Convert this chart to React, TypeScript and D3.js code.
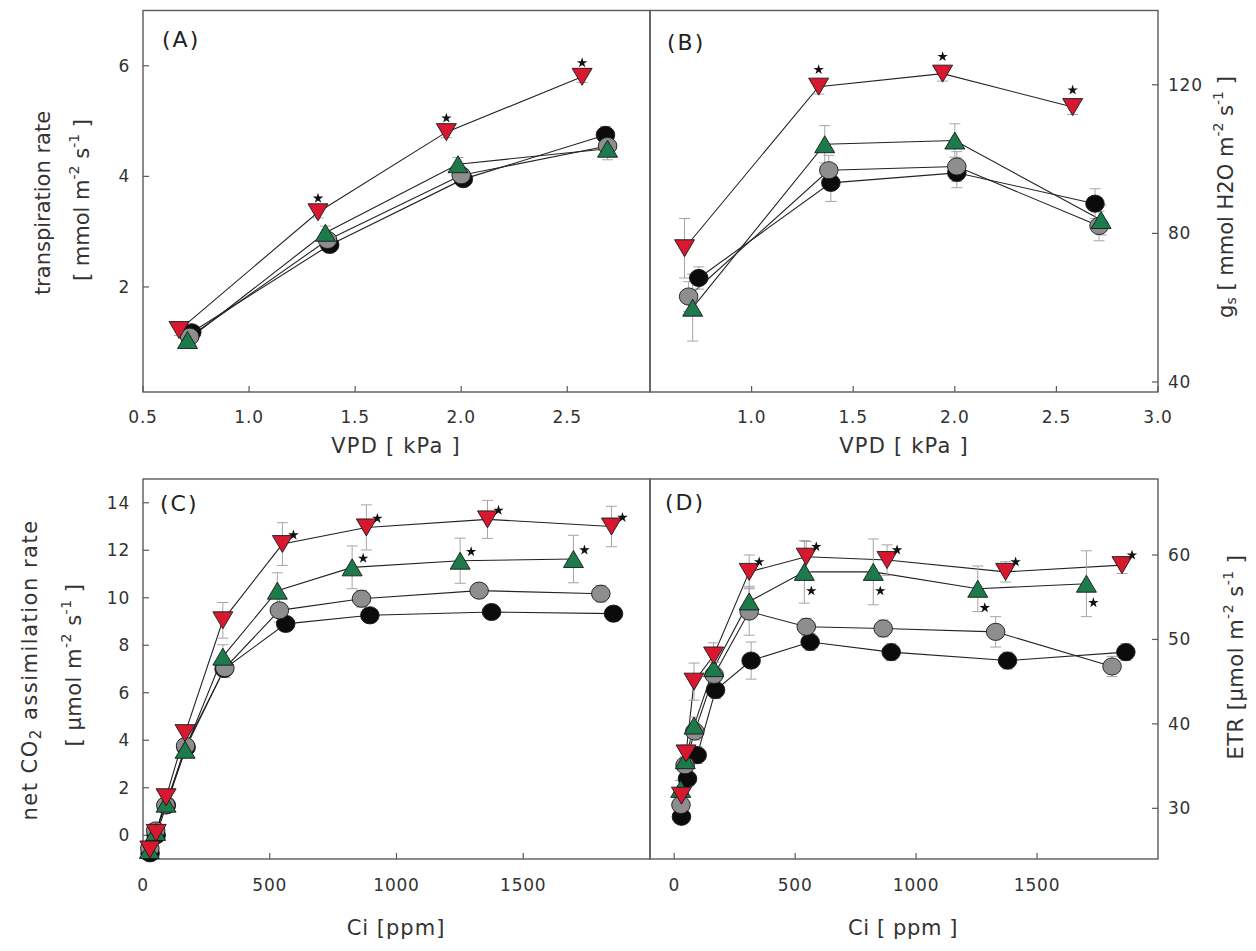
import React from "react";
import * as d3 from "d3";

const FONT = "'DejaVu Sans', 'Liberation Sans', sans-serif";

// ---------- (A) transpiration rate vs VPD ----------
const aBlackX = [0.73, 1.38, 2.01, 2.68];
const aBlackY = [1.18, 2.76, 3.95, 4.75];
const aBlackErr = [0.08, 0.1, 0.1, 0.15];
const aGreyX = [0.72, 1.37, 2.0, 2.69];
const aGreyY = [1.1, 2.85, 4.02, 4.55];
const aGreyErr = [0.08, 0.1, 0.12, 0.15];
const aGreenX = [0.71, 1.36, 1.985, 2.69];
const aGreenY = [1.04, 2.98, 4.22, 4.5];
const aGreenErr = [0.08, 0.12, 0.12, 0.2];
const aRedX = [0.67, 1.325, 1.93, 2.57];
const aRedY = [1.22, 3.35, 4.8, 5.8];
const aRedErr = [0.1, 0.1, 0.1, 0.1];
const aRedStars = [1, 2, 3];

// ---------- (B) stomatal conductance vs VPD ----------
const bBlackX = [0.74, 1.39, 2.01, 2.69];
const bBlackY = [68, 93.6, 96.3, 88];
const bBlackErr = [3, 5, 4, 4];
const bGreyX = [0.69, 1.38, 2.01, 2.71];
const bGreyY = [63, 97, 98, 82];
const bGreyErr = [4, 4, 4, 4];
const bGreenX = [0.71, 1.36, 2.0, 2.72];
const bGreenY = [60, 104, 105, 83.6];
const bGreenErr = [9, 5, 4.5, 4];
const bRedX = [0.67, 1.33, 1.94, 2.58];
const bRedY = [76, 119.5, 123, 114];
const bRedErr = [8, 2, 2, 2];
const bRedStars = [1, 2, 3];

// ---------- (C) net CO2 assimilation vs Ci ----------
const cBlackX = [28, 52, 92, 170, 320, 563, 895, 1375, 1856];
const cBlackY = [-0.76, 0.0, 1.26, 3.7, 7.0, 8.9, 9.26, 9.4, 9.33];
const cBlackErr = [0.1, 0.1, 0.15, 0.2, 0.3, 0.3, 0.3, 0.3, 0.3];
const cGreyX = [27, 50, 90, 168, 323, 538, 862, 1326, 1806];
const cGreyY = [-0.55, 0.2, 1.26, 3.76, 7.04, 9.47, 9.96, 10.3, 10.17];
const cGreyErr = [0.1, 0.1, 0.2, 0.3, 0.4, 0.5, 0.35, 0.3, 0.35];
const cGreenX = [25, 50, 91, 166, 315, 530, 825, 1251, 1698];
const cGreenY = [-0.62, 0.14, 1.33, 3.6, 7.52, 10.3, 11.28, 11.56, 11.63];
const cGreenErr = [0.1, 0.1, 0.2, 0.3, 0.5, 0.75, 0.9, 0.95, 1.0];
const cRedX = [27, 52, 91, 166, 315, 550, 881, 1359, 1848];
const cRedY = [-0.6, 0.1, 1.6, 4.3, 9.05, 12.26, 12.96, 13.3, 13.0];
const cRedErr = [0.1, 0.1, 0.2, 0.3, 0.75, 0.9, 0.95, 0.8, 0.85];
const cRedStars = [5, 6, 7, 8];
const cGreenStars = [6, 7, 8];

// ---------- (D) ETR vs Ci ----------
const dBlackX = [30, 55, 95, 171, 318, 562, 897, 1378, 1867];
const dBlackY = [29.0, 33.5, 36.3, 44.0, 47.5, 49.7, 48.5, 47.5, 48.5];
const dBlackErr = [0.8, 0.8, 1, 1, 2.2, 1, 1, 1, 1];
const dGreyX = [28, 45, 85, 165, 310, 546, 864, 1329, 1810];
const dGreyY = [30.4, 35.1, 39.1, 45.8, 53.3, 51.5, 51.3, 50.9, 46.8];
const dGreyErr = [0.8, 1, 1, 1.5, 2.8, 1, 1, 1.8, 1.2];
const dGreenX = [27, 46, 82, 163, 310, 538, 823, 1255, 1704];
const dGreenY = [32.3, 35.7, 39.8, 46.6, 54.5, 58.0, 58.0, 56.0, 56.6];
const dGreenErr = [1, 1, 1, 1.5, 1.8, 3.7, 3.9, 2.7, 3.9];
const dRedX = [30, 49, 82, 163, 310, 546, 880, 1370, 1851];
const dRedY = [31.5, 36.5, 45.0, 48.1, 58.0, 59.8, 59.4, 58.0, 58.8];
const dRedErr = [1, 1, 2.2, 1.5, 2, 1.8, 1.8, 1.2, 1];
const dRedStars = [4, 5, 6, 7, 8];
const dGreenStars = [5, 6, 7, 8];

// ---------- axis ticks ----------
const aXTicks = [0.5, 1.0, 1.5, 2.0, 2.5];
const aYTicks = [2, 4, 6];
const bXTicks = [1.0, 1.5, 2.0, 2.5, 3.0];
const bYTicks = [40, 80, 120];
const cXTicks = [0, 500, 1000, 1500];
const cYTicks = [0, 2, 4, 6, 8, 10, 12, 14];
const dXTicks = [0, 500, 1000, 1500];
const dYTicks = [30, 40, 50, 60];

type Kind = "black" | "grey" | "green" | "red";
type Series = { kind: Kind; x: number[]; y: number[]; err: number[] };
type Box = { l: number; r: number; t: number; b: number };

const FILL: Record<Kind, string> = {
  black: "#0b0b0b",
  grey: "#8e8e8e",
  green: "#1d7a4b",
  red: "#d7182f",
};

const mk = (kind: Kind, x: number[], y: number[], err: number[]): Series => ({ kind, x, y, err });

const Marker = ({ kind, cx, cy }: { kind: Kind; cx: number; cy: number }) => {
  if (kind === "black" || kind === "grey") {
    return <ellipse cx={cx} cy={cy} rx={9.3} ry={8.6} fill={FILL[kind]} stroke="#1a1a1a" strokeWidth={0.9} />;
  }
  const s = 20;
  const h = 17;
  const pts =
    kind === "green"
      ? [[cx, cy - h / 2], [cx - s / 2, cy + h / 2], [cx + s / 2, cy + h / 2]]
      : [[cx, cy + h / 2], [cx - s / 2, cy - h / 2], [cx + s / 2, cy - h / 2]];
  return <polygon points={pts.map((p) => p.join(",")).join(" ")} fill={FILL[kind]} stroke="#1a1a1a" strokeWidth={0.9} />;
};

const starPath = d3.symbol().type(d3.symbolStar).size(34)() || "";
const Star = ({ x, y }: { x: number; y: number }) => (
  <path d={starPath} transform={`translate(${x},${y})`} fill="#111" />
);

type PanelProps = {
  box: Box;
  xDomain: [number, number];
  yDomain: [number, number];
  xTicks: number[];
  yTicks: number[];
  ySide: "left" | "right";
  xFmt: (v: number) => string;
  xLabelY: number;
  series: Series[];
  stars: { kind: Kind; idx: number[]; dx: number; dy: number }[];
  tag: string;
  tagX: number;
  tagY: number;
};

const Panel = ({ box, xDomain, yDomain, xTicks, yTicks, ySide, xFmt, xLabelY, series, stars, tag, tagX, tagY }: PanelProps) => {
  const x = d3.scaleLinear().domain(xDomain).range([box.l, box.r]);
  const y = d3.scaleLinear().domain(yDomain).range([box.b, box.t]);
  const line = d3
    .line<[number, number]>()
    .x((d) => x(d[0]))
    .y((d) => y(d[1]));
  const tickLen = 6;
  return (
    <g>
      <rect x={box.l} y={box.t} width={box.r - box.l} height={box.b - box.t} fill="none" stroke="#5a5a5a" strokeWidth={1.4} />
      {xTicks.map((v) => (
        <g key={"xt" + v}>
          <line x1={x(v)} x2={x(v)} y1={box.b} y2={box.b - tickLen} stroke="#5a5a5a" strokeWidth={1.2} />
          <text x={x(v)} y={xLabelY} textAnchor="middle" dominantBaseline="central" fontSize={17} letterSpacing={0.8} fill="#333">
            {xFmt(v)}
          </text>
        </g>
      ))}
      {yTicks.map((v) => (
        <g key={"yt" + v}>
          {ySide === "left" ? (
            <line x1={box.l} x2={box.l + tickLen} y1={y(v)} y2={y(v)} stroke="#5a5a5a" strokeWidth={1.2} />
          ) : (
            <line x1={box.r - tickLen} x2={box.r} y1={y(v)} y2={y(v)} stroke="#5a5a5a" strokeWidth={1.2} />
          )}
          <text
            x={ySide === "left" ? box.l - 13 : box.r + 10}
            y={y(v)}
            textAnchor={ySide === "left" ? "end" : "start"}
            dominantBaseline="central"
            fontSize={17}
            letterSpacing={0.8}
            fill="#333"
          >
            {v}
          </text>
        </g>
      ))}
      <text x={tagX} y={tagY} dominantBaseline="central" fontSize={22} letterSpacing={2} fill="#222">
        {tag}
      </text>
      {series.map((s) => (
        <path
          key={"ln" + s.kind}
          d={line(s.x.map((v, i) => [v, s.y[i]] as [number, number])) || ""}
          fill="none"
          stroke="#222"
          strokeWidth={1.1}
        />
      ))}
      {series.map((s) =>
        s.x.map((v, i) => (
          <g key={"eb" + s.kind + i} stroke="#a5a5a5" strokeWidth={1}>
            <line x1={x(v)} x2={x(v)} y1={y(s.y[i] - s.err[i])} y2={y(s.y[i] + s.err[i])} />
            <line x1={x(v) - 5.5} x2={x(v) + 5.5} y1={y(s.y[i] - s.err[i])} y2={y(s.y[i] - s.err[i])} />
            <line x1={x(v) - 5.5} x2={x(v) + 5.5} y1={y(s.y[i] + s.err[i])} y2={y(s.y[i] + s.err[i])} />
          </g>
        ))
      )}
      {series.map((s) =>
        s.x.map((v, i) => <Marker key={"m" + s.kind + i} kind={s.kind} cx={x(v)} cy={y(s.y[i])} />)
      )}
      {stars.map((st) => {
        const s = series.find((q) => q.kind === st.kind)!;
        return st.idx.map((i) => <Star key={"st" + st.kind + i} x={x(s.x[i]) + st.dx} y={y(s.y[i]) + st.dy} />);
      })}
    </g>
  );
};

const sup = (t: string, size = 14) => (
  <>
    <tspan dy={-8} fontSize={size}>
      {t}
    </tspan>
    <tspan dy={8}> </tspan>
  </>
);

const VTitle = ({ x, y, size, ls, children }: { x: number; y: number; size: number; ls: number; children: React.ReactNode }) => (
  <text
    transform={`translate(${x},${y}) rotate(-90)`}
    textAnchor="middle"
    dominantBaseline="central"
    fontSize={size}
    letterSpacing={ls}
    fill="#333"
  >
    {children}
  </text>
);

const TOP_A: Box = { l: 143, r: 650, t: 10.5, b: 392 };
const TOP_B: Box = { l: 650, r: 1158, t: 10.5, b: 392 };
const BOT_C: Box = { l: 143, r: 650, t: 479, b: 859 };
const BOT_D: Box = { l: 650, r: 1158, t: 479, b: 859 };

export default function App() {
  const f1 = d3.format(".1f");
  const f0 = d3.format("d");
  return (
    <svg width={1256} height={951} style={{ position: "absolute", left: 0, top: 0, display: "block" }} fontFamily={FONT}>
      <rect width={1256} height={951} fill="#fff" />
      <Panel
        box={TOP_A}
        xDomain={[0.5, 2.89]}
        yDomain={[0.1, 7.0]}
        xTicks={aXTicks}
        yTicks={aYTicks}
        ySide="left"
        xFmt={f1}
        xLabelY={417}
        series={[
          mk("black", aBlackX, aBlackY, aBlackErr),
          mk("grey", aGreyX, aGreyY, aGreyErr),
          mk("green", aGreenX, aGreenY, aGreenErr),
          mk("red", aRedX, aRedY, aRedErr),
        ]}
        stars={[{ kind: "red", idx: aRedStars, dx: 0, dy: -14 }]}
        tag="(A)"
        tagX={162}
        tagY={39}
      />
      <Panel
        box={TOP_B}
        xDomain={[0.5, 3.0]}
        yDomain={[37.3, 140]}
        xTicks={bXTicks}
        yTicks={bYTicks}
        ySide="right"
        xFmt={f1}
        xLabelY={417}
        series={[
          mk("black", bBlackX, bBlackY, bBlackErr),
          mk("grey", bGreyX, bGreyY, bGreyErr),
          mk("green", bGreenX, bGreenY, bGreenErr),
          mk("red", bRedX, bRedY, bRedErr),
        ]}
        stars={[{ kind: "red", idx: bRedStars, dx: 0, dy: -17 }]}
        tag="(B)"
        tagX={667}
        tagY={42}
      />
      <Panel
        box={BOT_C}
        xDomain={[0, 2000]}
        yDomain={[-1, 15]}
        xTicks={cXTicks}
        yTicks={cYTicks}
        ySide="left"
        xFmt={f0}
        xLabelY={885}
        series={[
          mk("black", cBlackX, cBlackY, cBlackErr),
          mk("grey", cGreyX, cGreyY, cGreyErr),
          mk("green", cGreenX, cGreenY, cGreenErr),
          mk("red", cRedX, cRedY, cRedErr),
        ]}
        stars={[
          { kind: "red", idx: cRedStars, dx: 11, dy: -9 },
          { kind: "green", idx: cGreenStars, dx: 11, dy: -9 },
        ]}
        tag="(C)"
        tagX={160}
        tagY={503}
      />
      <Panel
        box={BOT_D}
        xDomain={[-100, 2000]}
        yDomain={[24, 69]}
        xTicks={dXTicks}
        yTicks={dYTicks}
        ySide="right"
        xFmt={f0}
        xLabelY={885}
        series={[
          mk("black", dBlackX, dBlackY, dBlackErr),
          mk("grey", dGreyX, dGreyY, dGreyErr),
          mk("green", dGreenX, dGreenY, dGreenErr),
          mk("red", dRedX, dRedY, dRedErr),
        ]}
        stars={[
          { kind: "red", idx: dRedStars, dx: 10, dy: -10 },
          { kind: "green", idx: dGreenStars, dx: 7, dy: 19 },
        ]}
        tag="(D)"
        tagX={665}
        tagY={502}
      />

      {/* x-axis titles */}
      <text x={396} y={446} textAnchor="middle" dominantBaseline="central" fontSize={21} letterSpacing={1.2} fill="#333">
        VPD [ kPa ]
      </text>
      <text x={904} y={446} textAnchor="middle" dominantBaseline="central" fontSize={21} letterSpacing={1.2} fill="#333">
        VPD [ kPa ]
      </text>
      <text x={396} y={928} textAnchor="middle" dominantBaseline="central" fontSize={21} letterSpacing={1} fill="#333">
        Ci [ppm]
      </text>
      <text x={903} y={928} textAnchor="middle" dominantBaseline="central" fontSize={21} letterSpacing={0.6} fill="#333">
        Ci [ ppm ]
      </text>

      {/* y-axis titles */}
      <VTitle x={43} y={203} size={21} ls={0}>
        transpiration rate
      </VTitle>
      <VTitle x={82} y={200} size={21} ls={0}>
        [ mmol m{sup("-2")}s{sup("-1")}]
      </VTitle>
      <VTitle x={1226} y={197} size={21} ls={0}>
        g
        <tspan dy={5} fontSize={14}>
          s
        </tspan>
        <tspan dy={-5}> [ mmol H2O m</tspan>
        {sup("-2")}s{sup("-1")}]
      </VTitle>
      <VTitle x={30} y={670} size={21} ls={1.5}>
        net CO
        <tspan dy={6} fontSize={15}>
          2
        </tspan>
        <tspan dy={-6}> assimilation rate</tspan>
      </VTitle>
      <VTitle x={74} y={665} size={21} ls={0.5}>
        [ µmol m{sup("-2")}s{sup("-1")}]
      </VTitle>
      <VTitle x={1236} y={657} size={21} ls={0.5}>
        ETR [µmol m{sup("-2")}s{sup("-1")}]
      </VTitle>
    </svg>
  );
}
